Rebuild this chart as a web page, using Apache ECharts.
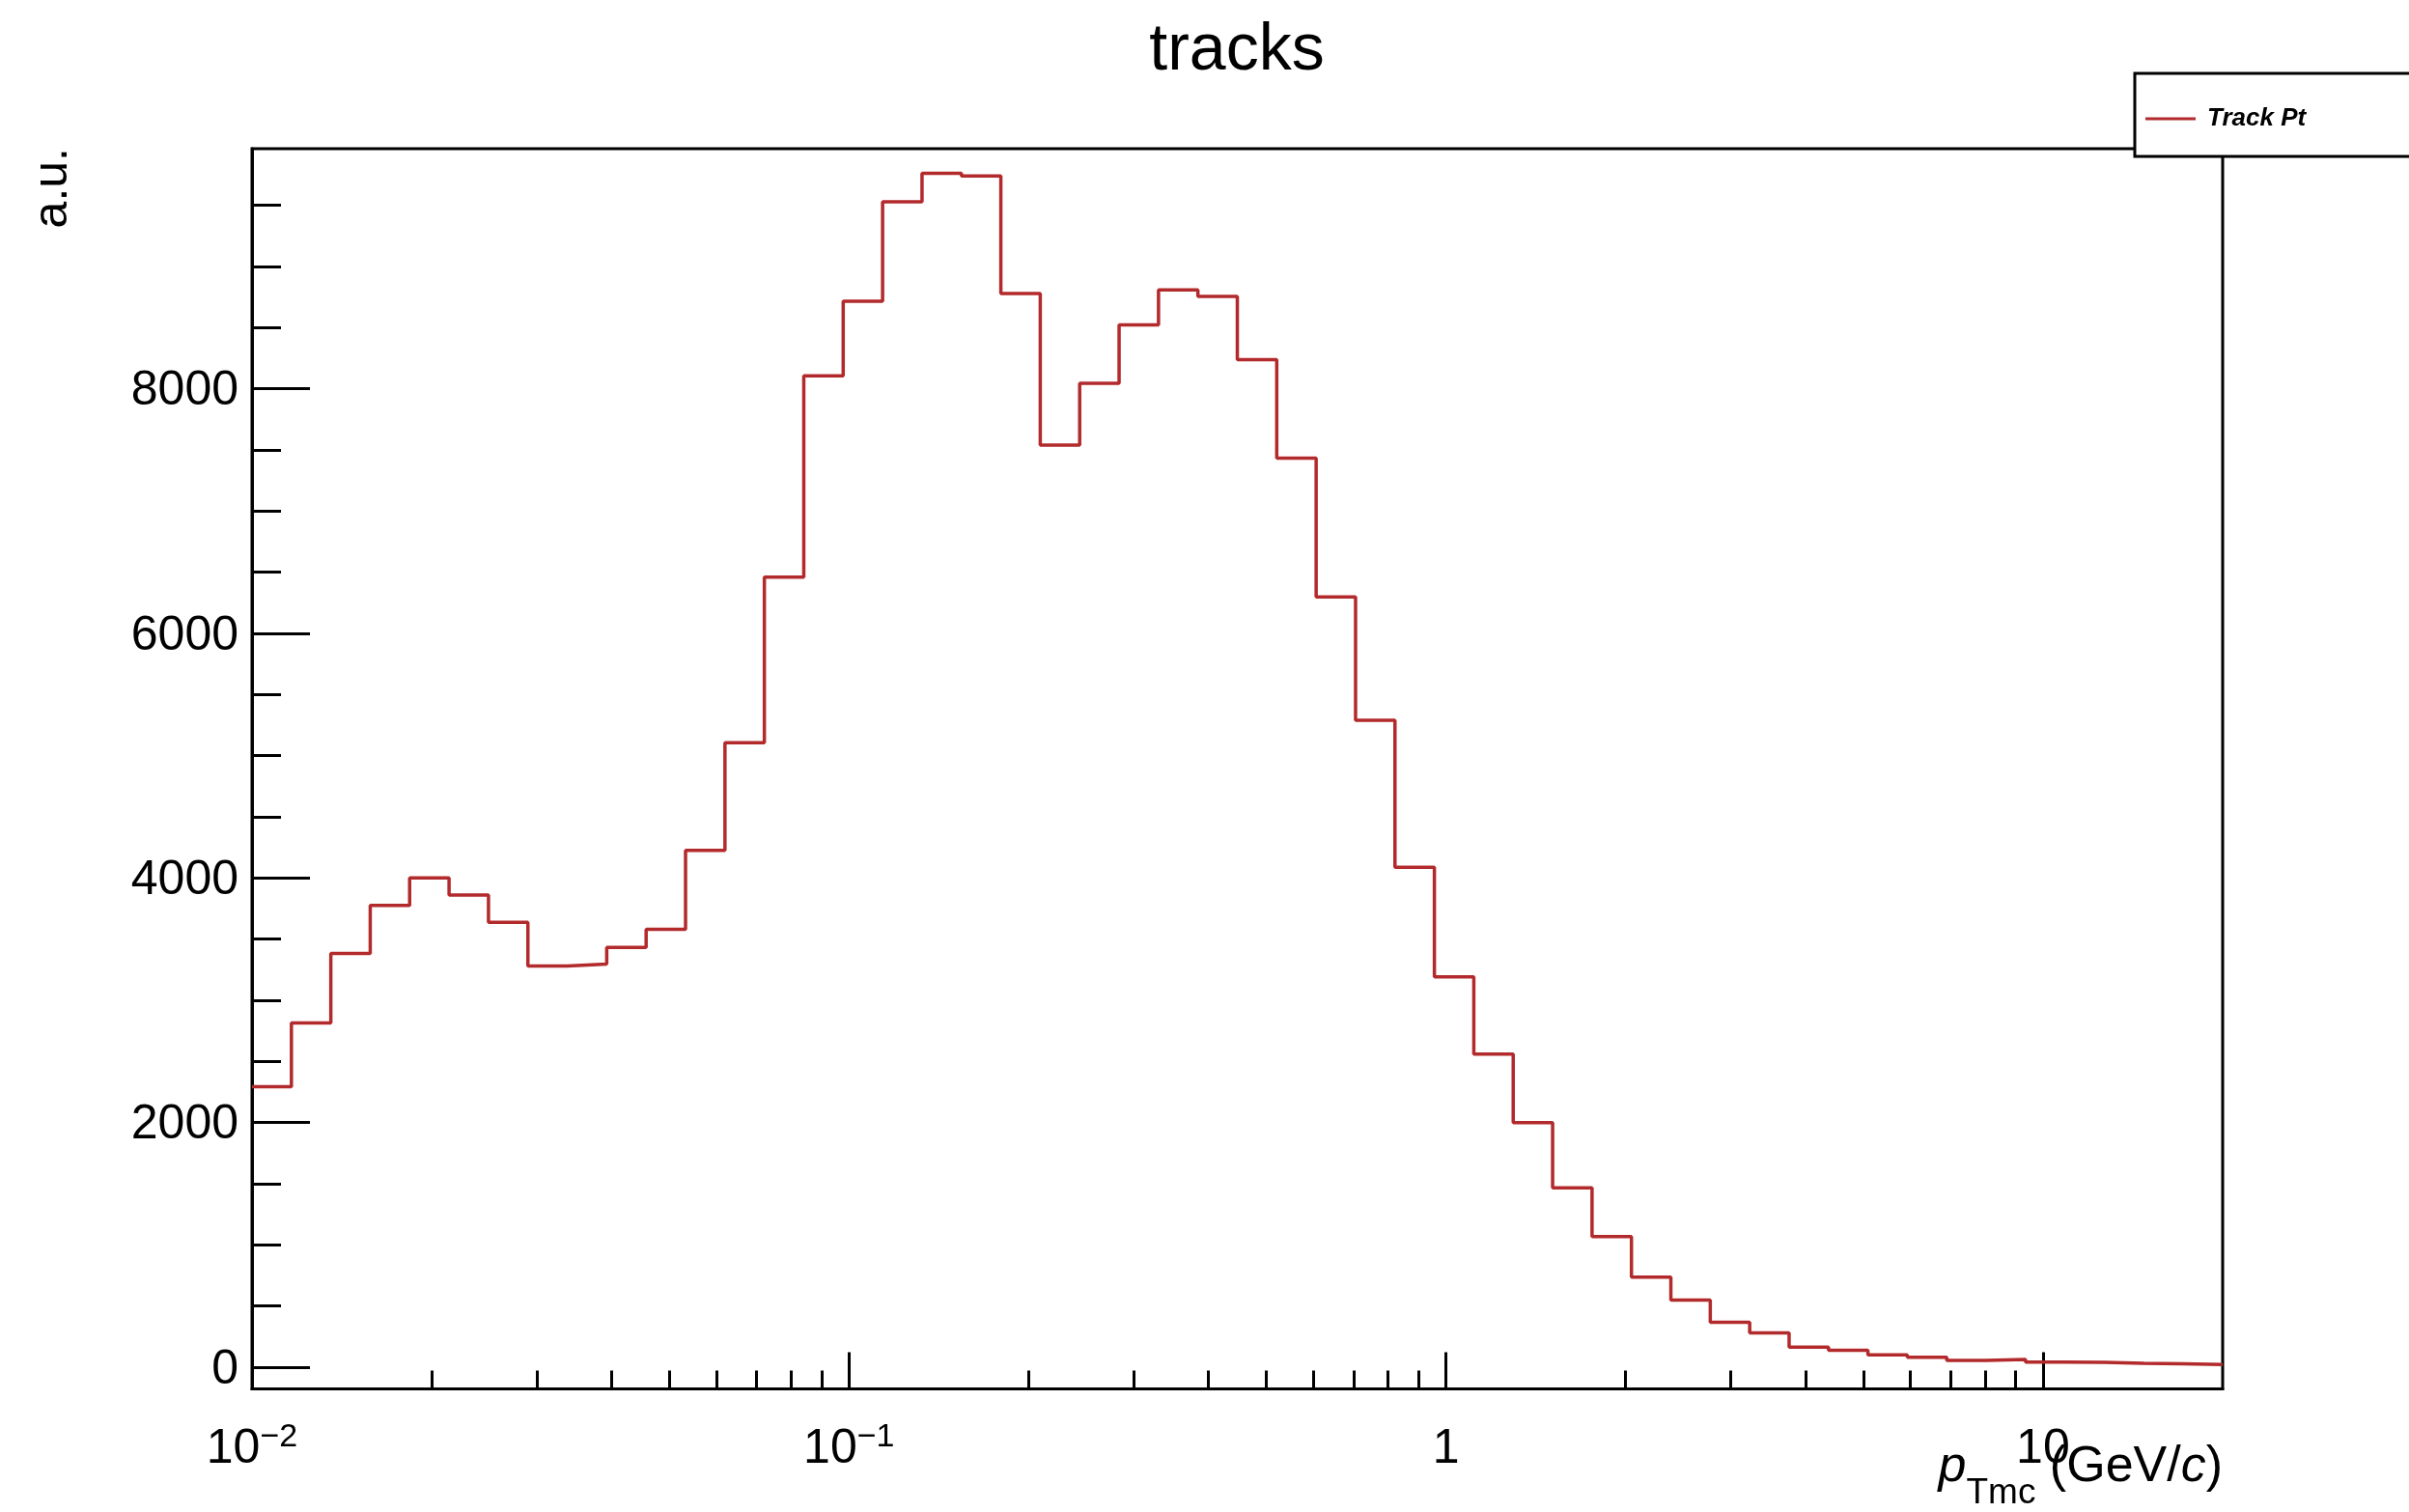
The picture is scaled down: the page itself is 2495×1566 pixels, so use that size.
<!DOCTYPE html>
<html>
<head>
<meta charset="utf-8">
<script src="https://cdn.jsdelivr.net/npm/echarts@6/dist/echarts.min.js"></script>
<style>
html,body{margin:0;padding:0;background:#fff;}
#chart{width:2495px;height:1566px;}
</style>
</head>
<body>
<div id="chart"></div>
<script>
// ---------------- data ----------------
const chartTitle = 'tracks';
const seriesName = 'Track Pt';
const xMin = 0.01;
const xMax = 20;
const nBins = 50;
const yMin = -178;
const yMax = 9963;

// bin contents (50 log-spaced bins from 0.01 to 20 GeV/c)
const binCounts = [
  2293, 2815, 3383, 3775, 4000, 3860, 3637, 3280, 3295, 3431,
  3580, 4225, 5105, 6460, 8105, 8716, 9528, 9762, 9740, 8778,
  7540, 8045, 8522, 8808, 8755, 8238, 7432, 6297, 5290, 4088,
  3192, 2560, 2000, 1467, 1068, 735, 548, 366, 280, 163,
  137, 101, 80, 55, 63, 42, 40, 32, 28, 22
];

const xMajorTicks = [0.01, 0.1, 1, 10];
const xMinorTicks = [0.02,0.03,0.04,0.05,0.06,0.07,0.08,0.09,
                     0.2,0.3,0.4,0.5,0.6,0.7,0.8,0.9,
                     2,3,4,5,6,7,8,9];
const xTickBase = ['10', '10', '1', '10'];
const xTickExp  = ['\u22122', '\u22121', '', ''];
const yMajorTicks = [0, 2000, 4000, 6000, 8000];
const yMinorTicks = [500,1000,1500,2500,3000,3500,4500,5000,5500,6500,7000,7500,8500,9000,9500];

// ---------------- build ----------------
const FONT = "'Liberation Sans', Arial, Helvetica, sans-serif";
const RED = '#b32a2c';

const binEdges = [];
for (let i = 0; i <= nBins; i++) binEdges.push(xMin * Math.pow(xMax / xMin, i / nBins));

const stepData = binCounts.map((v, i) => [binEdges[i], v]);
stepData.push([binEdges[nBins], binCounts[nBins - 1]]);

function xLabelFmt(val) {
  let idx = -1;
  for (let i = 0; i < xMajorTicks.length; i++) {
    if (Math.abs(Math.log10(val) - Math.log10(xMajorTicks[i])) < 1e-6) idx = i;
  }
  if (idx < 0) return '';
  return '{b|' + xTickBase[idx] + '}' + (xTickExp[idx] ? '{e|' + xTickExp[idx] + '}' : '');
}

const chart = echarts.init(document.getElementById('chart'), null, {renderer: 'canvas'});
const option = {
  backgroundColor: '#ffffff',
  animation: false,
  title: {
    text: chartTitle,
    left: 1281,
    top: 19,
    textAlign: 'center',
    padding: 0,
    textStyle: {fontFamily: FONT, fontSize: 68, fontWeight: 'normal', color: '#000', lineHeight: 68}
  },
  legend: {
    show: true,
    data: [seriesName],
    left: 2211,
    top: 76,
    orient: 'horizontal',
    padding: [32, 180, 24, 11],
    itemWidth: 52,
    itemHeight: 3,
    icon: 'rect',
    backgroundColor: '#ffffff',
    borderColor: '#000',
    borderWidth: 3,
    borderRadius: 0,
    textStyle: {
      fontFamily: FONT, fontSize: 26, fontWeight: 'bold', fontStyle: 'italic',
      color: '#000', lineHeight: 30, padding: [0, 0, 0, 7]
    }
  },
  grid: {
    left: 261, right: 193, top: 154, bottom: 127.5,
    show: true, borderColor: '#000', borderWidth: 3, backgroundColor: 'transparent',
    containLabel: false
  },
  xAxis: [
    {
      type: 'log', logBase: 10, min: xMin, max: xMax, position: 'bottom',
      axisLine: {show: true, onZero: false, lineStyle: {color: '#000', width: 3}},
      axisTick: {show: true, inside: true, length: 38, customValues: xMajorTicks,
                 lineStyle: {color: '#000', width: 3}},
      axisLabel: {
        show: true, customValues: xMajorTicks, margin: 33, formatter: xLabelFmt,
        rich: {
          b: {fontFamily: FONT, fontSize: 50, lineHeight: 60, color: '#000'},
          e: {fontFamily: FONT, fontSize: 34, lineHeight: 28, verticalAlign: 'top', color: '#000'}
        }
      },
      splitLine: {show: false},
      minorTick: {show: false}
    },
    {
      type: 'log', logBase: 10, min: xMin, max: xMax, position: 'bottom',
      axisLine: {show: false, onZero: false},
      axisTick: {show: true, inside: true, length: 19, customValues: xMinorTicks,
                 lineStyle: {color: '#000', width: 3}},
      axisLabel: {show: false},
      splitLine: {show: false}
    }
  ],
  yAxis: [
    {
      type: 'value', min: yMin, max: yMax, position: 'left',
      axisLine: {show: true, onZero: false, lineStyle: {color: '#000', width: 3}},
      axisTick: {show: true, inside: true, length: 60, customValues: yMajorTicks,
                 lineStyle: {color: '#000', width: 3}},
      axisLabel: {show: true, customValues: yMajorTicks, margin: 14,
                  fontFamily: FONT, fontSize: 50, color: '#000',
                  verticalAlign: 'top', lineHeight: 6,
                  formatter: v => String(v)},
      splitLine: {show: false}
    },
    {
      type: 'value', min: yMin, max: yMax, position: 'left',
      axisLine: {show: false, onZero: false},
      axisTick: {show: true, inside: true, length: 30, customValues: yMinorTicks,
                 lineStyle: {color: '#000', width: 3}},
      axisLabel: {show: false},
      splitLine: {show: false}
    }
  ],
  graphic: [
    {
      type: 'text', x: 55, y: 153, rotation: Math.PI / 2,
      style: {text: 'a.u.', fontFamily: FONT, fontSize: 50, fill: '#000',
              align: 'right', verticalAlign: 'middle'}
    },
    {
      type: 'text', x: 2302, y: 1494,
      style: {
        text: '{i|p}{s|Tmc}{n| (GeV/}{i|c}{n|)}',
        align: 'right', verticalAlign: 'top',
        rich: {
          n: {fontFamily: FONT, fontSize: 52, lineHeight: 52, verticalAlign: 'top', fill: '#000'},
          i: {fontFamily: FONT, fontSize: 52, lineHeight: 52, verticalAlign: 'top', fontStyle: 'italic', fill: '#000'},
          s: {fontFamily: FONT, fontSize: 37, lineHeight: 71, verticalAlign: 'bottom', fill: '#000'}
        }
      }
    }
  ],
  series: [
    {
      name: seriesName,
      type: 'line',
      xAxisIndex: 0,
      yAxisIndex: 0,
      step: 'end',
      showSymbol: false,
      symbol: 'none',
      data: stepData,
      color: RED,
      itemStyle: {color: RED},
      lineStyle: {color: RED, width: 3.5}
    }
  ]
};
chart.setOption(option);
</script>
</body>
</html>
